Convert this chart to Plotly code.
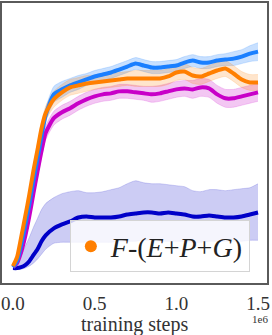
import plotly.graph_objects as go

# training steps (in units of 1e6)
steps = [0, 0.025, 0.05, 0.075, 0.1, 0.125, 0.15, 0.175, 0.2, 0.25, 0.3, 0.35, 0.4,
         0.45, 0.5, 0.55, 0.6, 0.65, 0.7, 0.75, 0.8, 0.85, 0.9, 0.95, 1.0, 1.05,
         1.1, 1.15, 1.2, 1.25, 1.3, 1.35, 1.4, 1.45, 1.5]

# mean returns (arbitrary units)
blue_mean = [16, 22, 38, 58, 79, 103, 125, 148, 169, 190, 195, 199, 202, 205, 208, 210,
             212, 215, 218, 221, 219, 217, 217, 218, 219, 222, 224, 222, 222, 224, 225,
             226, 228, 231, 233]
blue_std = [1, 2, 3, 4, 5, 5, 6, 6, 7, 8, 8, 7, 7, 6, 6, 6, 6, 6, 6, 6, 6, 6, 6, 6, 6, 6,
            6, 6, 6, 6, 6, 7, 7, 8, 9]

orange_mean = [17, 26, 46, 67, 89, 113, 134, 156, 171, 185, 192, 197, 199, 201, 202, 203,
               204, 205, 206, 206, 206, 206, 206, 208, 212, 213, 209, 208, 211, 214, 216,
               211, 205, 202, 202]
orange_std = [1, 2, 3, 4, 5, 5, 6, 6, 7, 8, 8, 8, 8, 8, 7, 7, 7, 7, 7, 8, 8, 8, 8, 8, 8, 8,
              8, 8, 8, 8, 8, 8, 8, 8, 8]

magenta_mean = [16, 20, 31, 47, 67, 90, 112, 133, 151, 166, 172, 176, 181, 185, 188, 190,
                191, 193, 193, 192, 191, 190, 191, 193, 195, 196, 195, 197, 196, 190, 186,
                186, 188, 190, 192]
magenta_std = [1, 2, 3, 4, 5, 5, 6, 6, 7, 7, 7, 7, 7, 7, 7, 7, 7, 7, 7, 7, 7, 8, 8, 8, 8,
               8, 9, 9, 9, 9, 9, 9, 9, 9, 9]

dark_mean = [15, 15, 16, 18, 22, 28, 34, 42, 48, 55, 59, 62, 66, 67, 66, 66, 66, 67, 69, 70,
             71, 71, 70, 71, 70, 69, 67, 67, 68, 67, 66, 66, 67, 69, 71]
dark_upper = [17, 21, 28, 37, 46, 56, 65, 74, 80, 86, 90, 92, 93, 91, 91, 92, 94, 96, 100,
              103, 101, 100, 100, 99, 98, 97, 93, 92, 94, 94, 93, 94, 95, 96, 100]
dark_lower = [14, 14, 14, 15, 17, 20, 24, 29, 34, 40, 41, 41, 41, 41, 41, 41, 41, 42, 42, 42,
              43, 43, 42, 42, 42, 42, 41, 41, 42, 42, 42, 42, 42, 43, 43]

legend_label = "<i>F</i>-(<i>E</i>+<i>P</i>+<i>G</i>)"

series = [
    ("dark", dark_mean, dark_upper, dark_lower, "#0000c8", "rgba(0,0,200,0.20)"),
    ("magenta", magenta_mean, [m + s for m, s in zip(magenta_mean, magenta_std)],
     [m - s for m, s in zip(magenta_mean, magenta_std)], "#c800c8", "rgba(200,0,200,0.22)"),
    ("blue", blue_mean, [m + s for m, s in zip(blue_mean, blue_std)],
     [m - s for m, s in zip(blue_mean, blue_std)], "#1a7fff", "rgba(26,127,255,0.24)"),
    ("orange", orange_mean, [m + s for m, s in zip(orange_mean, orange_std)],
     [m - s for m, s in zip(orange_mean, orange_std)], "#ff7f00", "rgba(255,127,0,0.20)"),
]

fig = go.Figure()
for name, mean, up, lo, col, fillc in series:
    fig.add_trace(go.Scatter(x=steps, y=up, mode="lines", showlegend=False,
                             line=dict(color=fillc, width=0.8, shape="spline", smoothing=0.6),
                             hoverinfo="skip"))
    fig.add_trace(go.Scatter(x=steps, y=lo, mode="lines", fill="tonexty", fillcolor=fillc,
                             showlegend=False,
                             line=dict(color=fillc, width=0.8, shape="spline", smoothing=0.6),
                             hoverinfo="skip"))
for name, mean, up, lo, col, fillc in series:
    fig.add_trace(go.Scatter(x=steps, y=mean, mode="lines", showlegend=False,
                             line=dict(color=col, width=4, shape="spline", smoothing=0.6)))

fig.add_trace(go.Scatter(x=[None], y=[None], mode="markers", name=legend_label,
                         marker=dict(color="#ff7f00", size=12)))

serif = "Liberation Serif"
fig.update_layout(
    width=272, height=335,
    margin=dict(l=1, r=5, t=1, b=52),
    plot_bgcolor="white", paper_bgcolor="white",
    font=dict(family=serif, color="#333333"),
    showlegend=True,
    legend=dict(x=0.256, y=0.2234, xanchor="left", yanchor="top",
                bgcolor="rgba(255,255,255,0.8)", bordercolor="#d4d4d4", borderwidth=1,
                font=dict(family=serif, size=28, color="#222222")),
    xaxis=dict(range=[-0.0671, 1.5549], tickvals=[0, 0.5, 1.0, 1.5],
               ticktext=["0.0", "0.5", "1.0", "1.5"], showgrid=False, zeroline=False,
               showline=True, mirror=True, linecolor="#5a5a5a", linewidth=2, ticks="",
               tickfont=dict(family=serif, size=19, color="#333333"), ticklabelstandoff=2),
    yaxis=dict(range=[0, 282], showticklabels=False, showgrid=False, zeroline=False,
               showline=True, mirror=True, linecolor="#5a5a5a", linewidth=2, ticks=""),
    annotations=[
        dict(text="training steps", x=0.5, y=-0.149, xref="paper", yref="paper",
             xanchor="center", yanchor="middle", showarrow=False,
             font=dict(family=serif, size=20, color="#333333")),
        dict(text="1e6", x=0.974, y=-0.13, xref="paper", yref="paper",
             xanchor="center", yanchor="middle", showarrow=False,
             font=dict(family=serif, size=11, color="#333333")),
    ],
)

fig.write_html("out.html", config={"displayModeBar": False},
               post_script="document.body.style.margin='0';")
